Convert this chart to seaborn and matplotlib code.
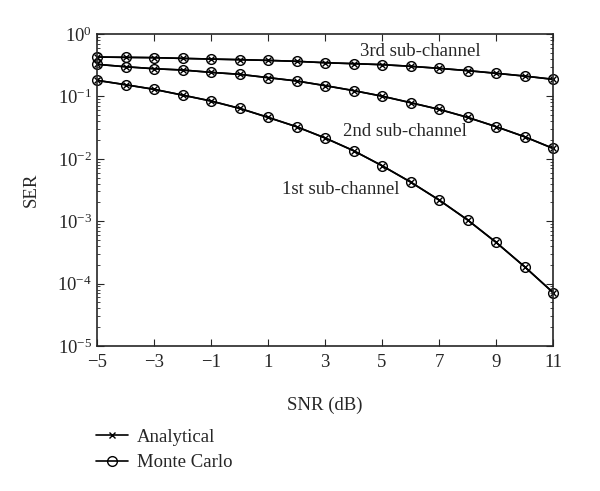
import numpy as np
import pandas as pd
import seaborn as sns
import matplotlib.pyplot as plt
from matplotlib.lines import Line2D
from matplotlib.ticker import LogLocator, FixedLocator, NullFormatter

sns.set_style("ticks")
plt.rcParams["font.family"] = ["Liberation Serif", "DejaVu Serif"]
plt.rcParams["mathtext.fontset"] = "stix"
plt.rcParams["xtick.direction"] = "in"
plt.rcParams["ytick.direction"] = "in"

# data
snr = list(range(-5, 12))
ser_1st = [0.181, 0.154, 0.130, 0.105, 0.0844, 0.0644, 0.0462, 0.0327, 0.0216,
           0.0135, 0.00776, 0.00425, 0.00219, 0.00105, 0.000459, 0.000187, 7.2e-5]
ser_2nd = [0.327, 0.299, 0.278, 0.265, 0.243, 0.226, 0.200, 0.177, 0.149,
           0.124, 0.101, 0.0794, 0.0621, 0.0462, 0.0328, 0.0226, 0.0147]
ser_3rd = [0.428, 0.423, 0.418, 0.407, 0.397, 0.388, 0.378, 0.365, 0.347,
           0.335, 0.323, 0.304, 0.282, 0.259, 0.235, 0.212, 0.188]
channels = ["1st sub-channel", "2nd sub-channel", "3rd sub-channel"]

df = pd.DataFrame({
    "snr": snr * 3,
    "ser": ser_1st + ser_2nd + ser_3rd,
    "channel": np.repeat(channels, len(snr)),
})

fig = plt.figure(figsize=(6, 4.91), dpi=100)
ax = fig.add_axes([0.1617, 0.2953, 0.76, 0.6354])

# analytical (x) and Monte Carlo (o) drawn on top of each other
sns.lineplot(data=df, x="snr", y="ser", units="channel", estimator=None,
             color="k", lw=1.2, marker="x", markersize=5, mec="k", mew=1.0,
             clip_on=False, ax=ax)
sns.lineplot(data=df, x="snr", y="ser", units="channel", estimator=None,
             color="k", lw=1.2, marker="o", markersize=7, mec="k", mfc="none",
             mew=1.0, clip_on=False, ax=ax)

ax.set_yscale("log")
ax.set_xlim(-5, 11)
ax.set_ylim(1e-5, 1)
ax.xaxis.set_major_locator(FixedLocator([-5, -3, -1, 1, 3, 5, 7, 9, 11]))
ax.set_xticklabels(["\u22125", "\u22123", "\u22121", "1", "3", "5", "7", "9", "11"])
ax.yaxis.set_major_locator(LogLocator(base=10, numticks=10))
ax.yaxis.set_minor_locator(LogLocator(base=10, subs=np.arange(2, 10), numticks=10))
ax.yaxis.set_minor_formatter(NullFormatter())
ax.tick_params(top=True, right=True, which="both", labelsize=13.5)
ax.tick_params(which="major", length=5)
ax.tick_params(which="minor", length=2.5)
ax.tick_params(axis="x", pad=6)
for s in ax.spines.values():
    s.set_linewidth(1.2)

ax.set_xlabel("SNR (dB)", fontsize=13.5, labelpad=18)
ax.set_ylabel("SER", fontsize=13.5, labelpad=13)

ax.text(6.33, 0.52, "3rd sub-channel", fontsize=13.5, ha="center", va="center")
ax.text(5.8, 0.027, "2nd sub-channel", fontsize=13.5, ha="center", va="center")
ax.text(3.56, 0.0032, "1st sub-channel", fontsize=13.5, ha="center", va="center")

handles = [
    Line2D([], [], color="k", lw=1.2, marker="x", markersize=5, mew=1.0),
    Line2D([], [], color="k", lw=1.2, marker="o", markersize=7, mfc="none", mew=1.0),
]
fig.legend(handles, ["Analytical", "Monte Carlo"], loc="upper left",
           bbox_to_anchor=(0.16, 0.127), frameon=False, fontsize=13.5,
           handlelength=1.7, handletextpad=0.5, labelspacing=0.45,
           borderpad=0, borderaxespad=0)

fig.savefig("out.png", dpi=100)
